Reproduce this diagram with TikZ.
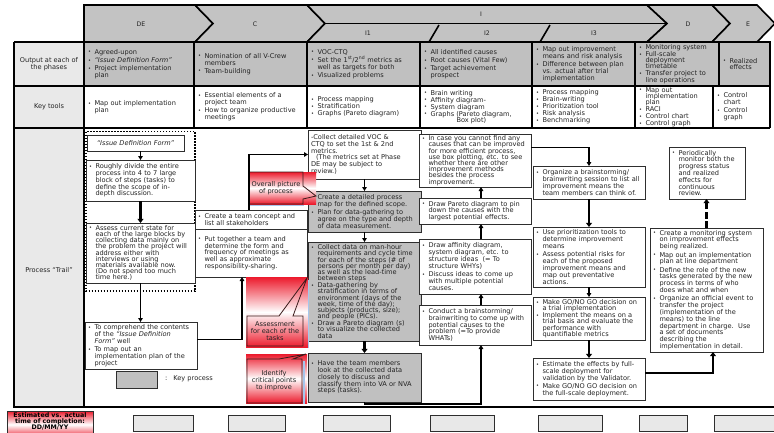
\documentclass[tikz,border=0pt]{standalone}
\usepackage{fontspec}
\setmainfont{DejaVu Sans}
\usetikzlibrary{arrows.meta,shadows}

\definecolor{hdrgray}{HTML}{C3C3C3}
\definecolor{rowgray}{HTML}{C0C0C0}
\definecolor{lblgray}{HTML}{E9E9E9}
\definecolor{keygray}{HTML}{C0C0C0}
\definecolor{boxline}{HTML}{2E2E2E}
\definecolor{callred}{HTML}{EC1A2C}
\definecolor{calledge}{HTML}{3A1A1A}
\definecolor{shadeblue}{HTML}{A7C6EC}
\definecolor{blankgray}{HTML}{E8E8E8}
\definecolor{inktext}{HTML}{222222}

% bullet items with hanging indent
\newlength{\bulind}\setlength{\bulind}{6.5pt}
\newlength{\bgap}\setlength{\bgap}{1.5pt}
\newcommand{\bulmark}{{\fontsize{5}{5}\selectfont\raisebox{0.4pt}{•}}}
\newcommand{\bpoint}[1]{\ifvmode\addvspace{\bgap}\fi\hangindent=\bulind\hangafter=1\noindent\hbox to \bulind{\bulmark\hfil}#1\par}
\newcommand{\brkln}{\hfil\break}

% \placebox{style}{name}{x1}{y1}{x2}{y2}{text}
\newcommand{\placebox}[7]{%
  \pgfmathsetmacro{\tbw}{#5-#3}%
  \pgfmathsetmacro{\tbh}{#6-#4}%
  \pgfmathsetmacro{\tbt}{#5-#3-6}%
  \node[#1,minimum width=\tbw pt,minimum height=\tbh pt,text width=\tbt pt] (#2) at (#3,#4) {#7};%
}

\tikzset{
  txt/.style={anchor=north west, inner xsep=3pt, inner ysep=1pt, outer sep=0pt, align=left, text=inktext,
    font={\fontsize{6.6}{6.8}\selectfont\lineskiplimit=-5pt\lineskip=0pt\setlength{\bgap}{1.5pt}}},
  tight/.style={font={\fontsize{6.6}{6.2}\selectfont\lineskiplimit=-5pt\lineskip=0pt\setlength{\bgap}{0.8pt}}},
  trailbox/.style={txt, draw=boxline, line width=0.9pt, fill=white,
    drop shadow={shadow xshift=1.1pt, shadow yshift=-1.1pt, fill=black!75, opacity=1}},
  keybox/.style={trailbox, fill=keygray},
  cell/.style={txt},
  blank/.style={txt, draw=boxline, line width=0.9pt, fill=blankgray,
    drop shadow={shadow xshift=1pt, shadow yshift=-1pt, fill=black!60, opacity=1}},
  grid/.style={line width=1.7pt, black, line join=miter},
  hdr/.style={fill=hdrgray, draw=black, line width=1.6pt, line join=miter},
  hdrtxt/.style={font=\fontsize{6.2}{7}\selectfont, text=inktext, inner sep=0pt},
  lbl/.style={font=\fontsize{6.6}{7.4}\selectfont, text=inktext, align=center, inner sep=0pt},
  arr/.style={draw=black, line width=1.1pt, -{Triangle[length=4pt,width=4.6pt]}},
  arrthick/.style={draw=black, line width=2.1pt, -{Triangle[length=4.2pt,width=6pt]}},
  callout/.style={draw=calledge, line width=0.8pt, line join=miter},
  calltxt/.style={font=\fontsize{6.6}{6.9}\selectfont, text=inktext, align=center, inner sep=0pt},
  redshade/.style={top color=callred, bottom color=callred, middle color=white},
}

\begin{document}
\begin{tikzpicture}[x=1pt,y=-1pt]
\useasboundingbox (0,0) rectangle (774,432);
\clip (0,0) rectangle (774,432);
\fill[white] (0,0) rectangle (774,432);

% ---------- phase header ----------
\draw[hdr] (84,5) -- (195,5) -- (213,23.5) -- (195,42) -- (84,42) -- cycle;
\draw[hdr] (195,5) -- (307,5) -- (325,23.5) -- (307,42) -- (195,42) -- (213,23.5) -- cycle;
\draw[hdr] (307,5) -- (647,5) -- (667,23.5) -- (647,42) -- (307,42) -- (325,23.5) -- cycle;
\draw[hdr] (647,5) -- (712,5) -- (730,23.5) -- (712,42) -- (647,42) -- (667,23.5) -- cycle;
\draw[hdr] (712,5) -- (757,5) -- (775,23.5) -- (757,42) -- (712,42) -- (730,23.5) -- cycle;
\draw[line width=1.6pt] (325,23.5) -- (667,23.5);
\draw[line width=1.6pt] (429,42) -- (439,25);
\draw[line width=1.6pt] (540,42) -- (550,25);

\node[hdrtxt] (lDE) at (141,24) {DE};
\node[hdrtxt] (lC) at (255,24) {C};
\node[hdrtxt] (lI) at (481,14) {I};
\node[hdrtxt] (lI1) at (368,33) {I1};
\node[hdrtxt] (lI2) at (487,33) {I2};
\node[hdrtxt] (lI3) at (594,33) {I3};
\node[hdrtxt] (lD) at (688,24) {D};
\node[hdrtxt] (lE) at (748,24) {E};

% ---------- table grid ----------
\fill[lblgray] (14,42) rectangle (84,407);
\fill[rowgray] (84,42) rectangle (770,86);
\draw[grid] (14,42) -- (770,42) -- (770,128);
\draw[grid] (14,86) -- (770,86);
\draw[grid] (14,128) -- (770,128);
\draw[grid] (14,42) -- (14,407) -- (774,407);
\draw[grid] (84,42) -- (84,407);
\foreach \x in {194,307,420,532,635,719} \draw[grid] (\x,42) -- (\x,86);
\foreach \x in {194,307,420,532,635,713} \draw[grid] (\x,86) -- (\x,128);

\node[lbl] (rOut) at (49,64) {Output at each of\\the phases};
\node[lbl] (rKey) at (49,107) {Key tools};
\node[lbl] (rTrail) at (49,270) {Process “Trail”};

% ---------- outputs ----------
\placebox{cell}{oDE}{85}{42}{194}{86}{\bpoint{Agreed-upon}\bpoint{\textit{“Issue Definition Form”}}\bpoint{Project implementation\brkln plan}}
\placebox{cell}{oC}{195}{42}{307}{86}{\bpoint{Nomination of all V-Crew\brkln members}\bpoint{Team-building}}
\placebox{cell}{oI1}{308}{42}{420}{86}{\bpoint{VOC-CTQ}\bpoint{Set the 1\textsuperscript{st}/2\textsuperscript{nd} metrics as\brkln well as targets for both}\bpoint{Visualized problems}}
\placebox{cell}{oI2}{421}{42}{532}{86}{\bpoint{All identified causes}\bpoint{Root causes (Vital Few)}\bpoint{Target achievement\brkln prospect}}
\placebox{cell}{oI3}{533}{42}{635}{86}{\bpoint{Map out improvement\brkln means and risk analysis}\bpoint{Difference between plan\brkln vs. actual after trial\brkln implementation}}
\placebox{cell,tight}{oD}{636}{42}{719}{86}{\bpoint{Monitoring system}\bpoint{Full-scale\brkln deployment\brkln timetable}\bpoint{Transfer project to\brkln line operations}}
\placebox{cell}{oE}{720}{42}{770}{86}{\bpoint{Realized\brkln effects}}

% ---------- key tools ----------
\placebox{cell}{kDE}{85}{86}{194}{128}{\bpoint{Map out implementation\brkln plan}}
\placebox{cell}{kC}{195}{86}{307}{128}{\bpoint{Essential elements of a\brkln project team}\bpoint{How to organize productive\brkln meetings}}
\placebox{cell,tight}{kI1}{308}{86}{420}{128}{\bpoint{Process mapping}\bpoint{Stratification}\bpoint{Graphs (Pareto diagram)}}
\placebox{cell,tight}{kI2}{421}{86}{532}{128}{\bpoint{Brain writing}\bpoint{Affinity diagram-}\bpoint{System diagram}\bpoint{Graphs (Pareto diagram,\brkln\hspace*{26pt}Box plot)}}
\placebox{cell,tight}{kI3}{533}{86}{635}{128}{\bpoint{Process mapping}\bpoint{Brain-writing}\bpoint{Prioritization tool}\bpoint{Risk analysis}\bpoint{Benchmarking}}
\placebox{cell,tight}{kD}{636}{86}{713}{128}{\bpoint{Map out\brkln implementation\brkln plan}\bpoint{RACI}\bpoint{Control chart}\bpoint{Control graph}}
\placebox{cell}{kE}{714}{86}{770}{128}{\bpoint{Control\brkln chart}\bpoint{Control\brkln graph}}

% ---------- process trail: DE ----------
\draw[line width=1.7pt, dash pattern=on 1.5pt off 1.5pt] (86,131.5) rectangle (195,291);
\placebox{trailbox,align=center}{idf}{87}{135}{184}{151}{\textit{“Issue Definition Form”}}
\placebox{trailbox}{rough}{86}{160}{195}{201}{\bpoint{Roughly divide the entire\brkln process into 4 to 7 large\brkln block of steps (tasks) to\brkln define the scope of in-\brkln depth discussion.}}
\placebox{trailbox,tight}{assess}{86}{223}{195}{283}{\bpoint{Assess current state for\brkln each of the large blocks by\brkln collecting data mainly on\brkln the problem the project will\brkln address either with\brkln interviews or using\brkln materials available now.\brkln (Do not spend too much\brkln time here.)}}
\placebox{trailbox}{compr}{85}{322}{197}{369}{\bpoint{To comprehend the contents\brkln of the \textit{“Issue Definition\brkln Form”} well}\bpoint{To map out an\brkln implementation plan of the\brkln project}}
\placebox{keybox}{legkey}{116}{371}{157}{388}{}
\node[lbl, anchor=west] (legtxt) at (165,379) {:\hspace{6pt}Key process};

% ---------- process trail: C ----------
\placebox{trailbox,tight}{teamc}{195}{210}{307}{229}{\bpoint{Create a team concept and\brkln list all stakeholders}}
\placebox{trailbox}{putt}{195}{229}{307}{277}{\bpoint{Put together a team and\brkln determine the form and\brkln frequency of meetings as\brkln well as approximate\brkln responsibility-sharing.}}

% ---------- process trail: I1 ----------
\placebox{trailbox}{voc}{308}{130}{421}{179}{\leftskip=6pt\relax -Collect detailed VOC \&\brkln CTQ to set the 1st \& 2nd\brkln metrics.\brkln \hspace*{5pt}(The metrics set at Phase\brkln DE may be subject to\brkln review.)}
\placebox{keybox}{detmap}{308}{191}{421}{232}{\bpoint{Create a detailed process\brkln map for the defined scope.}\bpoint{Plan for data-gathering to\brkln agree on the type and depth\brkln of data measurement.}}
\placebox{keybox,tight}{collect}{308}{242}{421}{341}{\bpoint{Collect data on man-hour\brkln requirements and cycle time\brkln for each of the steps (\# of\brkln persons per month per day)\brkln as well as the lead-time\brkln between steps}\bpoint{Data-gathering by\brkln stratification in terms of\brkln environment (days of the\brkln week, time of the day);\brkln subjects (products, size);\brkln and people (PICs).}\bpoint{Draw a Pareto diagram (s)\brkln to visualize the collected\brkln data}}
\placebox{keybox}{have}{308}{353}{421}{402}{\bpoint{Have the team members\brkln look at the collected data\brkln closely to discuss and\brkln classify them into VA or NVA\brkln steps (tasks).}}

% ---------- process trail: I2 ----------
\placebox{trailbox,tight}{incase}{419}{134}{531}{187}{\bpoint{In case you cannot find any\brkln causes that can be improved\brkln for more efficient process,\brkln use box plotting, etc. to see\brkln whether there are other\brkln improvement methods\brkln besides the process\brkln improvement.}}
\placebox{trailbox}{pareto}{419}{198}{531}{224}{\bpoint{Draw Pareto diagram to pin\brkln down the causes with the\brkln largest potential effects.}}
\placebox{trailbox}{affinity}{419}{239}{531}{294}{\bpoint{Draw affinity diagram,\brkln system diagram, etc. to\brkln structure ideas\ \ (= To\brkln structure WHYs)}\bpoint{Discuss ideas to come up\brkln with multiple potential\brkln causes.}}
\placebox{trailbox}{conduct}{419}{305}{531}{345}{\bpoint{Conduct a brainstorming/\brkln brainwriting to come up with\brkln potential causes to the\brkln problem (=To provide\brkln WHATs)}}

% ---------- process trail: I3 ----------
\placebox{trailbox}{organize}{533}{166}{645}{199}{\bpoint{Organize a brainstorming/\brkln brainwriting session to list all\brkln improvement means the\brkln team members can think of.}}
\placebox{trailbox}{prior}{533}{227}{645}{287}{\bpoint{Use prioritization tools to\brkln determine improvement\brkln means}\bpoint{Assess potential risks for\brkln each of the proposed\brkln improvement means and\brkln map out preventative\brkln actions.}}
\placebox{trailbox,tight}{gono}{533}{297}{645}{340}{\bpoint{Make GO/NO GO decision on\brkln a trial implementation}\bpoint{Implement the means on a\brkln trial basis and evaluate the\brkln performance with\brkln quantifiable metrics}}
\placebox{trailbox}{estimate}{533}{358}{645}{400}{\bpoint{Estimate the effects by full-\brkln scale deployment for\brkln validation by the Validator.}\bpoint{Make GO/NO GO decision on\brkln the full-scale deployment.}}

% ---------- process trail: D ----------
\placebox{trailbox}{periodic}{669}{147}{745}{199}{\bpoint{Periodically\brkln monitor both the\brkln progress status\brkln and realized\brkln effects for\brkln continuous\brkln review.}}
\placebox{trailbox}{monsys}{650}{228}{763}{352}{\bpoint{Create a monitoring system\brkln on improvement effects\brkln being realized.}\bpoint{Map out an implementation\brkln plan at line department}\bpoint{Define the role of the new\brkln tasks generated by the new\brkln process in terms of who\brkln does what and when}\bpoint{Organize an official event to\brkln transfer the project\brkln (implementation of the\brkln means) to the line\brkln department in charge.\ \ Use\brkln a set of documents\brkln describing the\brkln implementation in detail.}}

% ---------- callouts ----------
\shade[redshade] (249,172) rectangle (316,204);
\draw[shadeblue, line width=1.2pt] (250,205.3) -- (304,205.3);
\draw[callout] (249,172) -- (303,172) -- (303,186) -- (316,196) -- (303,199) -- (303,204) -- (249,204) -- cycle;
\node[calltxt] (cOverall) at (276,188) {Overall picture\\of process};

\shade[redshade] (246,277) rectangle (308,347);
\draw[shadeblue, line width=1.2pt] (308.8,280) -- (308.8,348);
\draw[callout] (247,316) -- (279,316) -- (307,278) -- (293,316) -- (303,316) -- (303,346) -- (247,346) -- cycle;
\node[calltxt] (cAssess) at (275,331) {Assessment\\for each of the\\tasks};

\shade[redshade] (246,354) rectangle (307,403);
\draw[shadeblue, line width=1.2pt] (304,361) -- (304,404);
\draw[callout] (247,359) -- (279,359) -- (306,354) -- (293,359) -- (302,359) -- (302,403) -- (247,403) -- cycle;
\node[calltxt] (cIdentify) at (274,381) {Identify\\critical points\\to improve};

% ---------- connectors ----------
\draw[arr] (rough.north |- idf.south) -- (rough.north);
\draw[arrthick] (rough.south) -- (assess.north);
\draw[arr] (assess.south) -- (assess.south |- compr.north);
\draw[arr] ([yshift=6pt]compr.east) -| ([xshift=-9pt]putt.south);
\draw[arr] ([xshift=-2pt]teamc.north) |- (voc.west);
\draw[arr] (voc.south) -- (detmap.north);
\draw[arr] (detmap.south) -- (collect.north);
\draw[arrthick] (collect.south) -- (have.north);
\draw[arr] (have.south) -- ++(0,2) -| ([xshift=6pt]conduct.south);
\draw[arr] ([xshift=6pt]conduct.north) -- ([xshift=6pt]affinity.south);
\draw[arr] ([xshift=6pt]affinity.north) -- ([xshift=6pt]pareto.south);
\draw[arr] ([xshift=6pt]pareto.north) -- ([xshift=6pt]incase.south);
\draw[arr] ([yshift=13pt]incase.east) -| (organize.north);
\draw[arrthick] (organize.south) -- (prior.north);
\draw[arr] (prior.south) -- (gono.north);
\draw[arrthick] (gono.south) -- (estimate.north);
\draw[arrthick] ([yshift=6pt]estimate.east) -| ([xshift=6.5pt]monsys.south);
\draw[arrthick, dash pattern=on 7pt off 2.5pt] (monsys.north) -- (monsys.north |- periodic.south);

% ---------- completion dates ----------
\node[draw=boxline, line width=0.9pt, redshade, anchor=north west, minimum width=86pt, minimum height=27pt,
  inner sep=0pt, outer sep=0pt] (est) at (7,411) {};
\node[font={\bfseries\fontsize{6.3}{6.0}\selectfont\lineskiplimit=-5pt\lineskip=0pt}, align=center, text=black, inner sep=0pt] (estlbl) at (50,421.5) {Estimated vs. actual\\time of completion:\\DD/MM/YY};
\foreach \a/\b [count=\i] in {133/193,228/285,323/390,430/494,538/602,639/687,714/777}
  {\placebox{blank}{date\i}{\a}{415}{\b}{431}{}}
\end{tikzpicture}
\end{document}
